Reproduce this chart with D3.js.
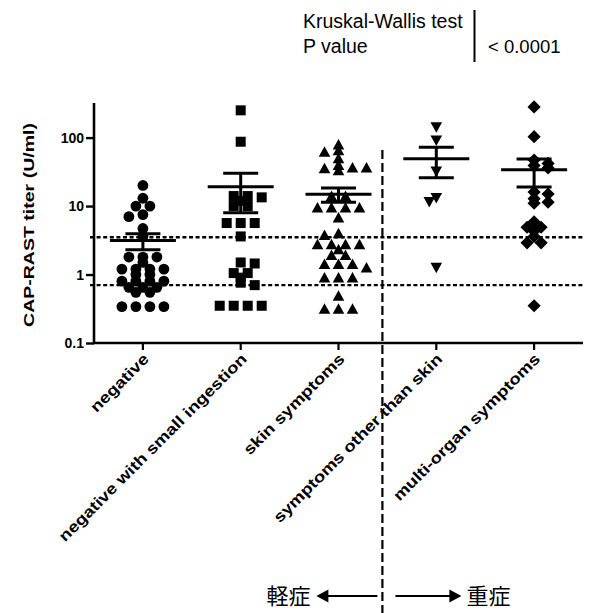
<!DOCTYPE html>
<html>
<head>
<meta charset="utf-8">
<script src="https://cdn.jsdelivr.net/npm/d3@7"></script>
<style>
  html, body { margin: 0; padding: 0; background: #fff; }
  svg { display: block; }
</style>
</head>
<body>
<div id="chart"></div>
<script>
// Groups along the x axis
const categories = [
  "negative",
  "negative with small ingestion",
  "skin symptoms",
  "symptoms other than skin",
  "multi-organ symptoms"
];

// CAP-RAST titer (U/ml) of each patient, per group
const negative = [20, 13, 10, 10, 7.5, 7, 4.7, 3.6, 1.8, 1.8, 1.8, 1.5, 1.2, 1.2, 1.2, 1.2,
  1.0, 1.0, 0.8, 0.8, 0.8, 0.8, 0.65, 0.65, 0.65, 0.55, 0.55, 0.34, 0.34, 0.34, 0.34];
const smallIngestion = [250, 87, 14, 14, 13.4, 11.9, 10, 10, 5.65, 5.65, 5.65, 3.6, 1.5, 1.45,
  1.05, 1.05, 0.9, 0.76, 0.70, 0.35, 0.35, 0.35, 0.35];
const skinSymptoms = [78, 64, 61, 49, 39, 36, 36, 35, 32.7, 13.8, 13.8, 9.4, 9.4, 9.4, 9.4, 6.7,
  3.95, 3.7, 2.73, 2.73, 2.73, 2.73, 2.3, 1.89, 1.89, 1.4, 1.4, 1.4, 1.25, 0.89, 0.89, 0.89,
  0.48, 0.31, 0.31, 0.31];
const otherThanSkin = [144, 92, 32.6, 13.3, 11.7, 1.28];
const multiOrgan = [280, 103, 47, 42, 39, 36, 16, 15, 12.8, 11.4, 11.0, 5.9, 4.9, 4.9, 4.3, 3.6,
  2.9, 2.9, 0.35];

const groupValues = [negative, smallIngestion, skinSymptoms, otherThanSkin, multiOrgan];
const markerShapes = ["circle", "square", "triangleUp", "triangleDown", "diamond"];

// Axis ticks and class cut-off reference lines
const yTicks = [0.1, 1, 10, 100];
const yTickLabels = ["0.1", "1", "10", "100"];
const cutoffs = [0.7, 3.5];

// Texts
const yTitle = "CAP-RAST titer (U/ml)";
const testLines = ["Kruskal-Wallis test", "P value"];
const pValue = "< 0.0001";
const mildLabel = "軽症";
const severeLabel = "重症";

const W = 590, H = 613;
const plot = { left: 94, right: 583, top: 103, bottom: 343 };
const FONT = "'Liberation Sans', Arial, Helvetica, sans-serif";

const svg = d3.select("#chart").append("svg")
  .attr("width", W).attr("height", H)
  .attr("viewBox", `0 0 ${W} ${H}`);
svg.append("rect").attr("width", W).attr("height", H).attr("fill", "#fff");

const x = d3.scaleBand().domain(categories).range([plot.left, plot.right]).padding(0);
const y = d3.scaleLog().domain([0.1, 320]).range([plot.bottom, plot.top]);

// Class cut-off lines (dotted)
svg.append("g").selectAll("line").data(cutoffs).join("line")
  .attr("x1", plot.left - 4).attr("x2", plot.right)
  .attr("y1", d => y(d)).attr("y2", d => y(d))
  .attr("stroke", "#000").attr("stroke-width", 2.4)
  .attr("stroke-dasharray", "4,2.6");

// Axes
const yAxis = d3.axisLeft(y).tickValues(yTicks)
  .tickFormat((d, i) => yTickLabels[i]).tickSize(8).tickPadding(2);
const gy = svg.append("g").attr("transform", `translate(${plot.left},0)`).call(yAxis);
gy.select(".domain").attr("d", `M0,${plot.top}V${plot.bottom}`).attr("stroke-width", 2.6);
gy.selectAll(".tick line").attr("stroke-width", 2.4);
gy.selectAll(".tick text").attr("font-family", FONT).attr("font-weight", "bold")
  .attr("font-size", 14).attr("fill", "#000");

const xAxis = d3.axisBottom(x).tickSize(7).tickFormat("");
const gx = svg.append("g").attr("transform", `translate(0,${plot.bottom})`).call(xAxis);
gx.select(".domain").attr("d", `M${plot.left - 1},0H${plot.right}`).attr("stroke-width", 2.6);
gx.selectAll(".tick line").attr("stroke-width", 2.2);

// Rotated category labels
svg.append("g").selectAll("text").data(categories).join("text")
  .attr("transform", d => `translate(${x(d) + x.bandwidth() / 2 + 7},${plot.bottom + 17}) rotate(-45) scale(1.2,1)`)
  .attr("text-anchor", "end")
  .attr("font-family", FONT).attr("font-weight", "bold").attr("font-size", 15.5)
  .attr("fill", "#000")
  .text(d => d);

// Y axis title
svg.append("text")
  .attr("transform", `translate(34,${(plot.top + plot.bottom) / 2 + 2}) rotate(-90) scale(1.26,1)`)
  .attr("text-anchor", "middle")
  .attr("font-family", FONT).attr("font-weight", "bold").attr("font-size", 15.5)
  .attr("fill", "#000")
  .text(yTitle);

// Marker shapes
function markerPath(shape) {
  switch (shape) {
    case "circle": return d3.symbol(d3.symbolCircle, Math.PI * 5.4 * 5.4)();
    case "square": return "M-5,-5H5V5H-5Z";
    case "triangleUp": return "M0,-6L5.8,4.5H-5.8Z";
    case "triangleDown": return "M0,6L5.8,-4.5H-5.8Z";
    case "diamond": return "M0,-6.6L6.6,0L0,6.6L-6.6,0Z";
  }
}

// Scatter layout: equal values form a centred row; each row is shifted sideways
// by the smallest amount that keeps it clear of the rows already placed
function swarm(values, cx) {
  const ties = d3.groups(values, v => v).sort((a, b) => b[0] - a[0]);
  const placed = [];
  const step = 7, gap = 14, rx = 12, ry = 4.5;
  const clash = (p, px, py) => ((p.x - px) / rx) ** 2 + ((p.y - py) / ry) ** 2 < 1;
  ties.forEach(([v, list], ti) => {
    const py = y(v);
    const k = list.length;
    const base = d3.range(k).map(j => (j - (k - 1) / 2) * gap);
    for (let s = 0; s < 20; s++) {
      const shifts = s === 0 ? [0] : (ti % 2 ? [s * step, -s * step] : [-s * step, s * step]);
      let done = false;
      for (const sh of shifts) {
        const xs = base.map(b => cx + b + sh);
        if (!xs.some(px => placed.some(p => clash(p, px, py)))) {
          xs.forEach(px => placed.push({ x: px, y: py, v }));
          done = true; break;
        }
      }
      if (done) break;
    }
  });
  return placed;
}

const pointsLayer = svg.append("g");
const statsLayer = svg.append("g");

groupValues.forEach((vals, gi) => {
  const cx = x(categories[gi]) + x.bandwidth() / 2;
  const pts = swarm(vals, cx);
  pointsLayer.append("g").selectAll("path").data(pts).join("path")
    .attr("d", markerPath(markerShapes[gi]))
    .attr("transform", d => `translate(${d.x},${d.y})`)
    .attr("fill", "#000");

  // Mean ± SEM
  const mean = d3.mean(vals);
  const sem = d3.deviation(vals) / Math.sqrt(vals.length);
  const hi = mean + sem, lo = mean - sem;
  const g = statsLayer.append("g").attr("stroke", "#000").attr("stroke-width", 3);
  g.append("line").attr("x1", cx).attr("x2", cx).attr("y1", y(hi)).attr("y2", y(lo));
  g.append("line").attr("x1", cx - 33).attr("x2", cx + 33).attr("y1", y(mean)).attr("y2", y(mean));
  g.append("line").attr("x1", cx - 17.5).attr("x2", cx + 17.5).attr("y1", y(hi)).attr("y2", y(hi));
  g.append("line").attr("x1", cx - 17.5).attr("x2", cx + 17.5).attr("y1", y(lo)).attr("y2", y(lo));
});

// Divider between mild and severe groups
const divX = x(categories[3]) - 5;
svg.append("line")
  .attr("x1", divX).attr("x2", divX).attr("y1", 150).attr("y2", H)
  .attr("stroke", "#000").attr("stroke-width", 2.2).attr("stroke-dasharray", "9,4");

// Severity arrows
const arrowY = 596;
const arrows = svg.append("g");
arrows.append("line").attr("x1", divX - 5).attr("x2", divX - 56).attr("y1", arrowY).attr("y2", arrowY)
  .attr("stroke", "#000").attr("stroke-width", 2.2);
arrows.append("path").attr("d", `M${divX - 66},${arrowY}L${divX - 54},${arrowY - 6.5}L${divX - 54},${arrowY + 6.5}Z`).attr("fill", "#000");
arrows.append("line").attr("x1", divX + 13).attr("x2", divX + 68).attr("y1", arrowY).attr("y2", arrowY)
  .attr("stroke", "#000").attr("stroke-width", 2.2);
arrows.append("path").attr("d", `M${divX + 79},${arrowY}L${divX + 67},${arrowY - 6.5}L${divX + 67},${arrowY + 6.5}Z`).attr("fill", "#000");

const CJK = "'Noto Sans CJK JP', 'Noto Sans CJK SC', sans-serif";
svg.append("text").attr("x", divX - 72).attr("y", arrowY + 8).attr("text-anchor", "end")
  .attr("font-family", CJK).attr("font-size", 22).attr("fill", "#000").text(mildLabel);
svg.append("text").attr("x", divX + 84).attr("y", arrowY + 8).attr("text-anchor", "start")
  .attr("font-family", CJK).attr("font-size", 22).attr("fill", "#000").text(severeLabel);

// Statistical test annotation
const note = svg.append("g").attr("font-family", FONT).attr("font-size", 19.5).attr("fill", "#000");
note.selectAll("text.t").data(testLines).join("text").attr("class", "t")
  .attr("x", 303).attr("y", (d, i) => 28 + i * 25).text(d => d);
note.append("line").attr("x1", 474.5).attr("x2", 474.5).attr("y1", 10).attr("y2", 62)
  .attr("stroke", "#000").attr("stroke-width", 2);
note.append("text").attr("x", 488).attr("y", 53).attr("font-size", 18.5).text(pValue);
</script>
</body>
</html>
